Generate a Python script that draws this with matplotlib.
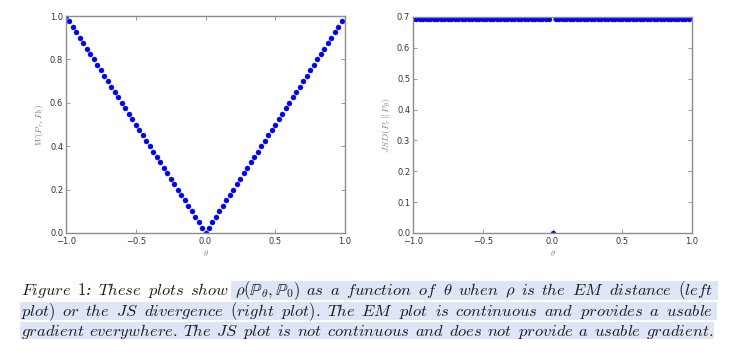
import matplotlib
matplotlib.use("Agg")
import matplotlib.pyplot as plt
from matplotlib.patches import Rectangle

# theta grid (step 0.025, from -1.0 up to 0.975)
theta = [-1.0, -0.975, -0.95, -0.925, -0.9, -0.875, -0.85, -0.825, -0.8, -0.775,
         -0.75, -0.725, -0.7, -0.675, -0.65, -0.625, -0.6, -0.575, -0.55, -0.525,
         -0.5, -0.475, -0.45, -0.425, -0.4, -0.375, -0.35, -0.325, -0.3, -0.275,
         -0.25, -0.225, -0.2, -0.175, -0.15, -0.125, -0.1, -0.075, -0.05, -0.025,
         0.0, 0.025, 0.05, 0.075, 0.1, 0.125, 0.15, 0.175, 0.2, 0.225,
         0.25, 0.275, 0.3, 0.325, 0.35, 0.375, 0.4, 0.425, 0.45, 0.475,
         0.5, 0.525, 0.55, 0.575, 0.6, 0.625, 0.65, 0.675, 0.7, 0.725,
         0.75, 0.775, 0.8, 0.825, 0.85, 0.875, 0.9, 0.925, 0.95, 0.975]

# EM distance (left plot)
w_dist = [1.0, 0.975, 0.95, 0.925, 0.9, 0.875, 0.85, 0.825, 0.8, 0.775,
          0.75, 0.725, 0.7, 0.675, 0.65, 0.625, 0.6, 0.575, 0.55, 0.525,
          0.5, 0.475, 0.45, 0.425, 0.4, 0.375, 0.35, 0.325, 0.3, 0.275,
          0.25, 0.225, 0.2, 0.175, 0.15, 0.125, 0.1, 0.075, 0.05, 0.025,
          0.0, 0.025, 0.05, 0.075, 0.1, 0.125, 0.15, 0.175, 0.2, 0.225,
          0.25, 0.275, 0.3, 0.325, 0.35, 0.375, 0.4, 0.425, 0.45, 0.475,
          0.5, 0.525, 0.55, 0.575, 0.6, 0.625, 0.65, 0.675, 0.7, 0.725,
          0.75, 0.775, 0.8, 0.825, 0.85, 0.875, 0.9, 0.925, 0.95, 0.975]

# JS divergence (right plot)
jsd = [0.693, 0.693, 0.693, 0.693, 0.693, 0.693, 0.693, 0.693, 0.693, 0.693,
       0.693, 0.693, 0.693, 0.693, 0.693, 0.693, 0.693, 0.693, 0.693, 0.693,
       0.693, 0.693, 0.693, 0.693, 0.693, 0.693, 0.693, 0.693, 0.693, 0.693,
       0.693, 0.693, 0.693, 0.693, 0.693, 0.693, 0.693, 0.693, 0.693, 0.693,
       0.0, 0.693, 0.693, 0.693, 0.693, 0.693, 0.693, 0.693, 0.693, 0.693,
       0.693, 0.693, 0.693, 0.693, 0.693, 0.693, 0.693, 0.693, 0.693, 0.693,
       0.693, 0.693, 0.693, 0.693, 0.693, 0.693, 0.693, 0.693, 0.693, 0.693,
       0.693, 0.693, 0.693, 0.693, 0.693, 0.693, 0.693, 0.693, 0.693, 0.693]

x_ticks = [-1.0, -0.5, 0.0, 0.5, 1.0]
w_ticks = [0.0, 0.2, 0.4, 0.6, 0.8, 1.0]
jsd_ticks = [0.0, 0.1, 0.2, 0.3, 0.4, 0.5, 0.6, 0.7]

# caption words, one list per printed line (math italic like the LaTeX original)
caption = [
    [r"$Figure$", r"$1$:", r"$These$", r"$plots$", r"$show$",
     r"$\rho(\mathbb{P}_\theta,\mathbb{P}_0)$", r"$as$", r"$a$", r"$function$",
     r"$of$", r"$\theta$", r"$when$", r"$\rho$", r"$is$", r"$the$", r"$EM$",
     r"$distance$", r"$(left$"],
    [r"$plot)$", r"$or$", r"$the$", r"$JS$", r"$divergence$", r"$(right$",
     r"$plot).$", r"$The$", r"$EM$", r"$plot$", r"$is$", r"$continuous$",
     r"$and$", r"$provides$", r"$a$", r"$usable$"],
    [r"$gradient$", r"$everywhere.$", r"$The$", r"$JS$", r"$plot$", r"$is$",
     r"$not$", r"$continuous$", r"$and$", r"$does$", r"$not$", r"$provide$",
     r"$a$", r"$usable$", r"$gradient.$"],
]

W, H = 737, 355
plt.rcParams["mathtext.fontset"] = "cm"

fig = plt.figure(figsize=(W / 100, H / 100), dpi=100)
fig.patch.set_facecolor("white")

ax1 = fig.add_axes([66 / W, 1 - 233 / H, 279 / W, 217 / H])
ax2 = fig.add_axes([413 / W, 1 - 233 / H, 279 / W, 216 / H])


def style(ax):
    for s in ax.spines.values():
        s.set_color("#8c8c8c")
        s.set_linewidth(1.0)
    ax.tick_params(direction="in", top=True, right=True, length=3, width=0.6,
                   color="#8c8c8c", labelsize=6, labelcolor="#333333", pad=2)
    ax.tick_params(axis="x", pad=3)


ax1.plot(theta, w_dist, "o", color="#0000ff", markersize=3.6,
         markeredgecolor="#0000cc", markeredgewidth=0.3)
ax1.set_xlim(-1, 1)
ax1.set_ylim(0, 1)
ax1.set_xticks(x_ticks)
ax1.set_yticks(w_ticks)
ax1.set_xlabel(r"$\theta$", fontsize=6, color="#888888", labelpad=1)
ax1.set_ylabel(r"$W(P_r,P_\theta)$", fontsize=7, color="#888888", labelpad=3)
style(ax1)

ax2.plot(theta, jsd, "o", color="#0000ff", markersize=3.6,
         markeredgecolor="#0000cc", markeredgewidth=0.3)
ax2.set_xlim(-1, 1)
ax2.set_ylim(0, 0.7)
ax2.set_xticks(x_ticks)
ax2.set_yticks(jsd_ticks)
ax2.set_xlabel(r"$\theta$", fontsize=6, color="#888888", labelpad=1)
ax2.set_ylabel(r"$JSD(P_r\,\|\,P_\theta)$", fontsize=7, color="#888888", labelpad=3)
style(ax2)

# caption: pick a size giving normal word gaps, then justify each line
renderer = fig.canvas.get_renderer()
x0, x1 = 21, 713
baselines = [295, 316, 336]
s0 = 12.0
all_arts = []
sizes = []
for words, yb in zip(caption, baselines):
    arts = [fig.text(0, 1 - yb / H, w, fontsize=s0, family="DejaVu Serif",
                     style="italic", va="baseline", color="#1c1c1c", zorder=3)
            for w in words]
    a0 = sum(a.get_window_extent(renderer).width for a in arts)
    sizes.append((x1 - x0) / (a0 / s0 + (len(words) - 1) * 0.30 * 100 / 72))
    all_arts.append(arts)
size = min(sizes)

positions = []
for arts in all_arts:
    for a in arts:
        a.set_fontsize(size)
    widths = [a.get_window_extent(renderer).width for a in arts]
    gap = ((x1 - x0) - sum(widths)) / (len(arts) - 1)
    x = x0
    pos = []
    for a, wd in zip(arts, widths):
        a.set_x(x / W)
        pos.append(x)
        x += wd + gap
    positions.append(pos)

# blue text highlight
hl_color = "#dde5f6"
rho_start = positions[0][5] - 4
boxes = [(rho_start, 718, 281, 300), (20, 717, 302, 320), (20, 714, 322, 339)]
for xa, xb, ya, yb in boxes:
    fig.add_artist(Rectangle((xa / W, 1 - yb / H), (xb - xa) / W, (yb - ya) / H,
                             transform=fig.transFigure, facecolor=hl_color,
                             edgecolor="none", zorder=1))

fig.savefig("out.png", dpi=100, facecolor="white")
